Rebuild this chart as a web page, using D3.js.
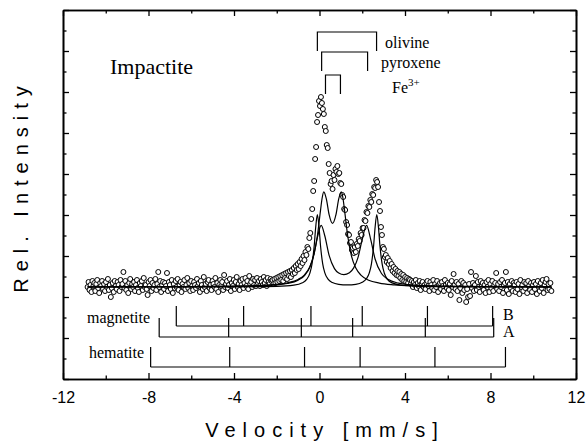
<!DOCTYPE html>
<html lang="en">
<head>
<meta charset="UTF-8">
<title>Impactite Mössbauer spectrum</title>
<script src="https://d3js.org/d3.v7.min.js"></script>
<style>
  body { margin: 0; background: #fff; }
  svg { display: block; }
</style>
</head>
<body>
<div id="chart"></div>
<script>
// velocity of channel i = vStart + i * vStep (mm/s)
const vStart = -10.85;
const vStep = 0.0453;

const counts = [
  // -10.85 .. -2.24 mm/s
  -2, 3, -5, 0, -7, 4, -1, 2, -6, 1, 5, -3, -8, 2, -1, 4,
  -4, 1, -6, 3, -2, 6, -5, 0, -12, -3, 2, -7, 4, -1, -4, 3,
  0, -6, 5, -2, 1, 13, -3, 4, -5, 0, -8, 2, 6, -4, 1, -2,
  3, -6, 0, 5, -3, -7, 2, -1, 4, -5, 7, -2, 0, -4, -10, 3,
  -1, 5, -6, 2, -3, 0, 6, -5, 1, 13, -2, 4, -7, 0, 3, -4,
  2, -1, 12, -6, 3, 0, -4, 5, -8, 1, -3, 4, -2, 6, -5, 0,
  3, -7, 1, -2, 5, -4, 0, 7, -3, 2, -6, 4, -1, -5, 3, 0,
  -3, 6, -1, 2, -7, 4, 0, -4, 8, -2, 1, -6, 3, 5, -3, 0,
  -5, 4, 1, -2, 7, -4, 2, -7, 0, 5, -1, 3, -5, 10, -2, 1,
  4, -3, 0, 6, -6, 2, -1, 5, -4, 3, 8, -2, 1, -5, 4, 0,
  6, -3, 2, 7, -1, 4, -4, 9, 1, 3, -2, 6, 0, 5, -1, 7,
  2, 4, -1, 6, 3, 0, 8, 2, 5, -1, 7, 3, 1, 6, 4,
  // -2.20 .. 4.19 mm/s
  5, 1, 6, 2, 7, 3, 8, 4, 9, 5, 10, 4, 11, 7, 12, 6,
  13, 9, 14, 8, 15, 11, 17, 12, 19, 15, 21, 16, 23, 19, 26, 22,
  29, 25, 33, 30, 38, 36, 47, 52, 66, 76, 94, 104, 126, 138, 163, 170,
  184, 179, 188, 182, 176, 171, 158, 154, 140, 137, 121, 112, 101, 104, 96, 110,
  105, 116, 113, 119, 111, 112, 102, 101, 90, 88, 76, 75, 63, 60, 51, 50,
  42, 43, 35, 37, 32, 38, 33, 41, 39, 46, 44, 52, 50, 57, 57, 65,
  64, 73, 72, 79, 78, 85, 83, 91, 90, 98, 97, 105, 103, 98, 83, 74,
  58, 50, 38, 36, 28, 30, 23, 27, 21, 24, 17, 21, 14, 18, 12, 16,
  10, 14, 9, 13, 7, 11, 5, 10, 4, 8, 3, 7, 2, 6,
  // 4.23 .. 10.85 mm/s
  5, 1, 4, -2, 3, 0, 5, -3, 2, -1, 4, -5, 1, 3, -2, 0,
  -4, 2, 4, -1, -6, 3, 0, -3, 5, -5, 1, -2, 4, -7, 0, 2,
  -4, 3, -1, -6, 5, 0, -3, 2, -5, 1, -10, 4, -2, 11, 0, -4,
  3, -6, 1, -15, -3, 4, -8, 2, -5, 0, -17, -4, -12, 1, -11, 13,
  -3, 2, -6, 0, 9, -5, 3, -2, -7, 4, -1, 2, -5, 0, -8, 3,
  -2, 5, -7, 1, -3, 4, -6, 0, 2, 12, -4, 1, -6, 3, -2, 5,
  -8, 0, 2, 13, -5, 3, -9, 1, -3, 4, -6, 2, 0, -7, 3, -4,
  1, -9, 5, -2, 0, -6, 3, -3, 2, -8, 4, -1, -5, 2, -7, 0,
  3, -4, 1, -9, 4, -2, -6, 2, -3, 5, -8, 0, 3, 6, -5, 1,
  -4, 2, -6
];

// fitted doublet curves, sampled off the figure as [velocity, intensity]
const olivineFit = [
  [-10.85, -2], [-4, -1.8], [-2, -1.3], [-1.2, -0.2], [-0.8, 2.2], [-0.6, 5.6],
  [-0.45, 11.9], [-0.35, 21], [-0.25, 38.6], [-0.18, 57.2], [-0.1, 70.3], [-0.02, 57.3],
  [0.05, 38.7], [0.15, 21.2], [0.25, 12.1], [0.4, 5.9], [0.6, 2.5], [0.9, 0.7],
  [1.3, 0.1], [1.7, 0.7], [2.0, 2.7], [2.2, 6.5], [2.33, 12.1], [2.43, 21.2],
  [2.53, 38.8], [2.6, 57.4], [2.68, 70.4], [2.76, 57.3], [2.83, 38.7], [2.93, 21.1],
  [3.03, 12], [3.18, 5.7], [3.4, 2.1], [3.8, 0], [4.6, -1.3], [6, -1.7], [10.85, -2]
];
const pyroxeneFit = [
  [-10.85, -1.9], [-6, -1.7], [-4, -1.3], [-3, -0.9], [-2, 0.2], [-1.5, 1.5],
  [-1, 4.8], [-0.7, 9.4], [-0.45, 18], [-0.25, 31.9], [-0.1, 47.4], [0.08, 59.7],
  [0.25, 49], [0.45, 29.6], [0.7, 16.4], [0.9, 12], [1.14, 10.4], [1.4, 12.3],
  [1.6, 17.1], [1.8, 27.3], [1.98, 43.8], [2.2, 59.7], [2.4, 45.2], [2.6, 26],
  [2.9, 11.5], [3.2, 5.7], [3.7, 1.8], [4.2, 0.3], [5, -0.7], [6.5, -1.4],
  [8.5, -1.7], [10.85, -1.85]
];
const fe3Fit = [
  [-10.85, -1.9], [-6, -1.6], [-4, -1.2], [-3, -0.6], [-2, 0.7], [-1.5, 2.2],
  [-1, 5.6], [-0.7, 10.2], [-0.45, 18.2], [-0.25, 31.2], [-0.1, 49], [0.05, 75.1],
  [0.12, 86.5], [0.2, 93.1], [0.32, 86.1], [0.45, 70.3], [0.61, 61.6], [0.77, 70.3],
  [0.9, 86.1], [1.02, 93.1], [1.1, 86.5], [1.17, 75.1], [1.32, 49], [1.5, 28.6],
  [1.7, 16.9], [1.95, 9.6], [2.3, 4.8], [2.8, 1.9], [3.5, 0.2], [4.5, -0.8],
  [6, -1.4], [8.5, -1.7], [10.85, -1.9]
];

// doublet line positions for the brackets (mm/s)
const olivineLines = [-0.1, 2.67];
const pyroxeneLines = [0.1, 2.25];
const fe3Lines = [0.28, 0.98];

// reference sextets (mm/s)
const magnetiteB = [-6.7, -3.55, -0.4, 2.0, 5.05, 8.1];
const magnetiteA = [-7.5, -4.25, -0.85, 1.55, 4.95, 8.15];
const hematite = [-7.9, -4.2, -0.7, 1.9, 5.4, 8.7];

const xTickLabels = [-12, -8, -4, 0, 4, 8, 12];
const xMinorTicks = [-10, -6, -2, 2, 6, 10];

const width = 587, height = 448;
const plot = { left: 63, right: 576, top: 10, bottom: 379 };
const serif = "Liberation Serif, Times New Roman, serif";
const sans = "Liberation Sans, Arial, sans-serif";

const svg = d3.select("#chart").append("svg")
  .attr("width", width)
  .attr("height", height)
  .style("background", "#fff");

const x = d3.scaleLinear().domain([-12, 12]).range([plot.left, plot.right]);
const y = d3.scaleLinear().domain([-94, 275]).range([plot.bottom, plot.top]);

// unlabelled y ticks, 18 intervals, long every second one
const yTicks = d3.range(0, 19).map(k => -94 + 20.5 * k);
const yMajor = yTicks.filter((d, k) => k % 2 === 0);
const yMinor = yTicks.filter((d, k) => k % 2 === 1);

// data points
const points = counts.map((c, i) => ({ v: vStart + i * vStep, c }));
svg.append("g")
  .selectAll("circle")
  .data(points)
  .join("circle")
  .attr("cx", d => x(d.v))
  .attr("cy", d => y(d.c))
  .attr("r", 2.5)
  .attr("fill", "#fff")
  .attr("stroke", "#000")
  .attr("stroke-width", 1);

// fit curves
const line = d3.line()
  .x(d => x(d[0]))
  .y(d => y(d[1]))
  .curve(d3.curveMonotoneX);

svg.append("g")
  .selectAll("path")
  .data([olivineFit, pyroxeneFit, fe3Fit])
  .join("path")
  .attr("d", line)
  .attr("fill", "none")
  .attr("stroke", "#000")
  .attr("stroke-width", 1.2);

// axes, ticks pointing inward
function styleAxis(g) {
  g.select(".domain").attr("stroke", "#000").attr("stroke-width", 1.6);
  g.selectAll(".tick line").attr("stroke", "#000").attr("stroke-width", 1.3);
  g.selectAll(".tick text")
    .attr("font-family", sans)
    .attr("font-size", 16)
    .attr("fill", "#000");
}

svg.append("g")
  .attr("transform", `translate(0,${plot.bottom})`)
  .call(d3.axisBottom(x).tickValues(xTickLabels).tickSize(-6).tickSizeOuter(0)
    .tickPadding(13).tickFormat(d => String(d)))
  .call(styleAxis);
svg.append("g")
  .attr("transform", `translate(0,${plot.bottom})`)
  .call(d3.axisBottom(x).tickValues(xMinorTicks).tickSize(-3.5).tickSizeOuter(0).tickFormat(""))
  .call(styleAxis);
svg.append("g")
  .attr("transform", `translate(0,${plot.top})`)
  .call(d3.axisTop(x).tickValues(xTickLabels).tickSize(-6).tickSizeOuter(0).tickFormat(""))
  .call(styleAxis);
svg.append("g")
  .attr("transform", `translate(0,${plot.top})`)
  .call(d3.axisTop(x).tickValues(xMinorTicks).tickSize(-3.5).tickSizeOuter(0).tickFormat(""))
  .call(styleAxis);

svg.append("g")
  .attr("transform", `translate(${plot.left},0)`)
  .call(d3.axisLeft(y).tickValues(yMajor).tickSize(-6).tickSizeOuter(0).tickFormat(""))
  .call(styleAxis);
svg.append("g")
  .attr("transform", `translate(${plot.left},0)`)
  .call(d3.axisLeft(y).tickValues(yMinor).tickSize(-3.5).tickSizeOuter(0).tickFormat(""))
  .call(styleAxis);
svg.append("g")
  .attr("transform", `translate(${plot.right},0)`)
  .call(d3.axisRight(y).tickValues(yMajor).tickSize(-6).tickSizeOuter(0).tickFormat(""))
  .call(styleAxis);
svg.append("g")
  .attr("transform", `translate(${plot.right},0)`)
  .call(d3.axisRight(y).tickValues(yMinor).tickSize(-3.5).tickSizeOuter(0).tickFormat(""))
  .call(styleAxis);

// axis titles
svg.append("text")
  .attr("x", 325)
  .attr("y", 437)
  .attr("text-anchor", "middle")
  .attr("font-family", sans)
  .attr("font-size", 20)
  .attr("letter-spacing", 7)
  .text("Velocity [mm/s]");

svg.append("text")
  .attr("transform", "translate(28,186) rotate(-90)")
  .attr("text-anchor", "middle")
  .attr("font-family", sans)
  .attr("font-size", 20)
  .attr("letter-spacing", 7)
  .text("Rel. Intensity");

svg.append("text")
  .attr("x", 110)
  .attr("y", 74)
  .attr("font-family", serif)
  .attr("font-size", 22)
  .text("Impactite");

// doublet brackets above the spectrum
const brackets = [
  { lines: olivineLines, top: 32, label: "olivine", lx: 385, ly: 48 },
  { lines: pyroxeneLines, top: 52, label: "pyroxene", lx: 381, ly: 68 },
  { lines: fe3Lines, top: 75, label: null, lx: 392, ly: 93 }
];
const bracketLeg = 19;

svg.append("g")
  .selectAll("path")
  .data(brackets)
  .join("path")
  .attr("d", d => {
    const x1 = x(d.lines[0]), x2 = x(d.lines[1]);
    return `M${x1},${d.top + bracketLeg}V${d.top}H${x2}V${d.top + bracketLeg}`;
  })
  .attr("fill", "none")
  .attr("stroke", "#000")
  .attr("stroke-width", 1.2);

brackets.filter(d => d.label).forEach(d => {
  svg.append("text")
    .attr("x", d.lx)
    .attr("y", d.ly)
    .attr("font-family", serif)
    .attr("font-size", 16)
    .text(d.label);
});

const fe = svg.append("text")
  .attr("x", 392)
  .attr("y", 93)
  .attr("font-family", serif)
  .attr("font-size", 16);
fe.append("tspan").text("Fe");
fe.append("tspan").attr("font-size", 11).attr("dy", -7).text("3+");

// stick diagrams for reference sextets
const sextets = [
  { lines: magnetiteB, base: -41, tip: -21 },
  { lines: magnetiteA, base: -52, tip: -33 },
  { lines: hematite, base: -82, tip: -62 }
];

const sticks = svg.append("g")
  .attr("stroke", "#000")
  .attr("stroke-width", 1.2)
  .attr("fill", "none");

sextets.forEach(s => {
  sticks.append("line")
    .attr("x1", x(d3.min(s.lines)))
    .attr("x2", x(d3.max(s.lines)))
    .attr("y1", y(s.base))
    .attr("y2", y(s.base));
  sticks.selectAll(null)
    .data(s.lines)
    .join("line")
    .attr("x1", d => x(d))
    .attr("x2", d => x(d))
    .attr("y1", y(s.base))
    .attr("y2", y(s.tip));
});

const labels = [
  { text: "magnetite", x: 87, y: 323 },
  { text: "hematite", x: 89, y: 358 },
  { text: "B", x: 503, y: 320 },
  { text: "A", x: 503, y: 337 }
];
svg.append("g")
  .selectAll("text")
  .data(labels)
  .join("text")
  .attr("x", d => d.x)
  .attr("y", d => d.y)
  .attr("font-family", serif)
  .attr("font-size", 16)
  .text(d => d.text);
</script>
</body>
</html>
